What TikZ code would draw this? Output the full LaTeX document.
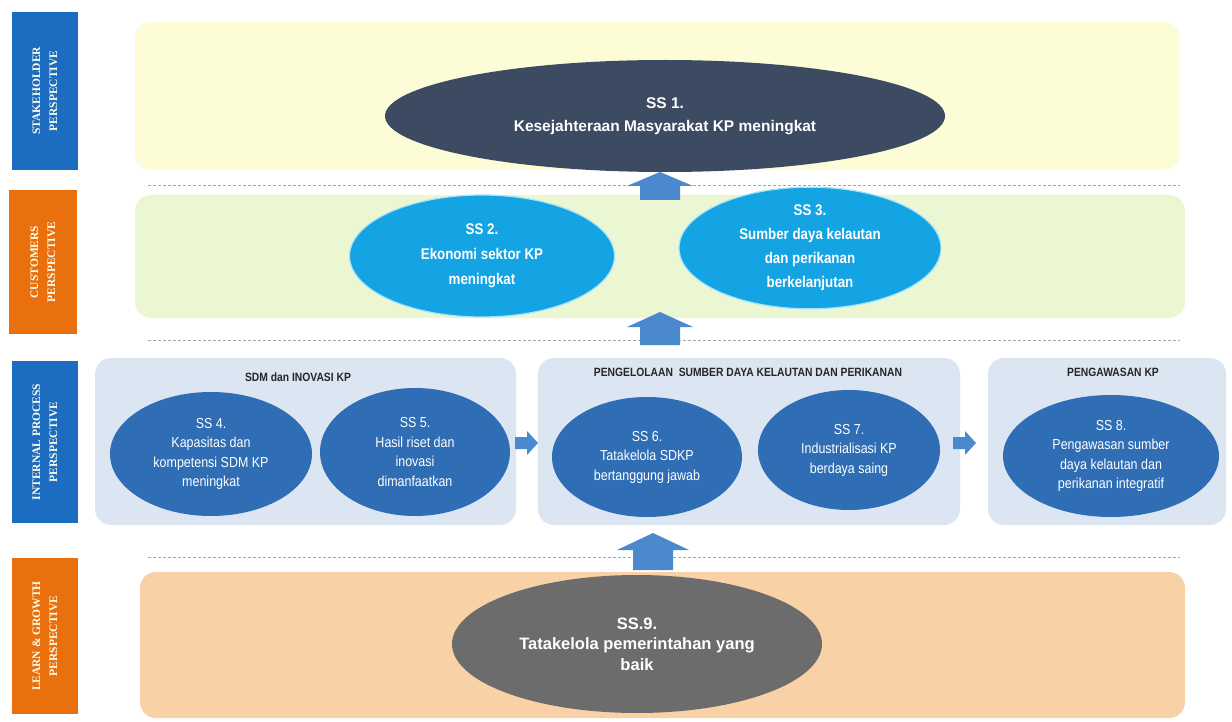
\documentclass[tikz,border=0pt]{standalone}
\usepackage{fontspec}
\setmainfont{Liberation Sans}
\newfontfamily\condfont[FakeStretch=0.86]{Liberation Sans}
\newfontfamily\sidefont{Liberation Serif}
\usetikzlibrary{shapes.geometric,calc}
\definecolor{sideblue}{HTML}{1C6CC2}
\definecolor{sideorange}{HTML}{EA700E}
\definecolor{bandyellow}{HTML}{FCFCD6}
\definecolor{bandgreen}{HTML}{EAF7D2}
\definecolor{panelblue}{HTML}{DCE6F2}
\definecolor{bandpeach}{HTML}{F9D1A6}
\definecolor{navy}{HTML}{3C4A62}
\definecolor{cyanell}{HTML}{14A4E4}
\definecolor{blueell}{HTML}{2F6DB5}
\definecolor{grayell}{HTML}{6C6C6C}
\definecolor{arrowblue}{HTML}{4A89CD}
\tikzset{
  x=1pt,y=-1pt,
  sidebox/.style={fill=#1, draw=none, minimum width=158pt, minimum height=66pt, rotate=90,
     text=white!92!yellow, font=\sidefont\fontsize{11.5}{17}\selectfont\bfseries, align=center, inner sep=0pt},
  band/.style={fill=#1, draw=none, rounded corners=16pt},
  divider/.style={draw=gray!70, dashed, line width=0.8pt, dash pattern=on 3pt off 2pt},
  ell/.style={ellipse, fill=#1, draw=none, text=white, align=center, inner sep=0pt},
  lowell/.style={ell=blueell, font=\condfont\fontsize{14.5}{19.5}\selectfont},
  paneltitle/.style={font=\condfont\fontsize{12}{14}\selectfont\bfseries, text=black!85},
  blockarrow/.style={fill=arrowblue, draw=none},
}
\begin{document}
\begin{tikzpicture}
\useasboundingbox (0,0) rectangle (1232,722);
\fill[white] (0,0) rectangle (1232,722);

% side labels
\node[sidebox=sideblue] (pStake) at (45,91) {STAKEHOLDER\\PERSPECTIVE};
\node[sidebox=sideorange, minimum width=144pt, minimum height=68pt] (pCust) at (43,262) {CUSTOMERS\\PERSPECTIVE};
\node[sidebox=sideblue, minimum width=162pt] (pInt) at (45,442) {INTERNAL PROCESS\\PERSPECTIVE};
\node[sidebox=sideorange, minimum width=156pt] (pLearn) at (45,636) {LEARN \& GROWTH\\PERSPECTIVE};

% bands
\fill[band=bandyellow] (135,22) rectangle (1180,170);
\draw[divider] (148,185) -- (1180,185);
\fill[band=bandgreen] (135,195) rectangle (1185,318);
\draw[divider] (148,340) -- (1180,340);
\fill[band=panelblue] (95,358) rectangle (516,525);
\fill[band=panelblue] (538,358) rectangle (960,525);
\fill[band=panelblue] (988,358) rectangle (1226,525);
\draw[divider] (148,557) -- (1180,557);
\fill[band=bandpeach] (140,572) rectangle (1185,718);

% panel titles
\node[paneltitle] (t1) at (298,377) {SDM dan INOVASI KP};
\node[paneltitle] (t2) at (748,372) {PENGELOLAAN\ \ SUMBER DAYA KELAUTAN DAN PERIKANAN};
\node[paneltitle] (t3) at (1113,372) {PENGAWASAN KP};

% ellipses
\node[ell=navy, minimum width=560pt, minimum height=112pt, font=\fontsize{15.5}{23}\selectfont\bfseries] (ss1) at (665,116)
  {SS 1.\\Kesejahteraan Masyarakat KP meningkat};
\node[ell=cyanell, draw=cyan!35, line width=1.2pt, minimum width=265pt, minimum height=122pt, font=\condfont\fontsize{15.5}{25}\selectfont\bfseries] (ss2) at (482,256)
  {SS 2.\\Ekonomi sektor KP\\meningkat};
\node[ell=cyanell, draw=cyan!35, line width=1.2pt, minimum width=262pt, minimum height=118pt, font=\condfont\fontsize{15.5}{24}\selectfont\bfseries] (ss3) at (810,248)
  {SS 3.\\Sumber daya kelautan\\dan perikanan\\berkelanjutan};
\node[lowell, minimum width=202pt, minimum height=124pt] (ss4) at (211,454)
  {SS 4.\\Kapasitas dan\\kompetensi SDM KP\\meningkat};
\node[lowell, minimum width=190pt, minimum height=128pt] (ss5) at (415,452)
  {SS 5.\\Hasil riset dan\\inovasi\\dimanfaatkan};
\node[lowell, minimum width=190pt, minimum height=120pt] (ss6) at (647,457)
  {SS 6.\\Tatakelola SDKP\\bertanggung jawab};
\node[lowell, minimum width=182pt, minimum height=120pt] (ss7) at (849,450)
  {SS 7.\\Industrialisasi KP\\berdaya saing};
\node[lowell, minimum width=216pt, minimum height=122pt] (ss8) at (1111,456)
  {SS 8.\\Pengawasan sumber\\daya kelautan dan\\perikanan integratif};
\node[ell=grayell, minimum width=370pt, minimum height=138pt, font=\fontsize{16.5}{20.5}\selectfont\bfseries] (ss9) at (637,644)
  {SS.9.\\Tatakelola pemerintahan yang\\baik};

% block arrows (up)
\coordinate (a1) at (660,172);
\fill[blockarrow] (a1) -- ++(33,14) -- ++(-13,0) -- ++(0,14) -- ++(-40,0) -- ++(0,-14) -- ++(-13,0) -- cycle;
\coordinate (a2) at (660,312);
\fill[blockarrow] (a2) -- ++(33,15) -- ++(-13,0) -- ++(0,18) -- ++(-40,0) -- ++(0,-18) -- ++(-13,0) -- cycle;
\coordinate (a3) at (653,533);
\fill[blockarrow] (a3) -- ++(36,17) -- ++(-16,0) -- ++(0,20) -- ++(-40,0) -- ++(0,-20) -- ++(-16,0) -- cycle;
% block arrows (right)
\coordinate (r1) at (538,443);
\fill[blockarrow] (r1) -- ++(-11,-12) -- ++(0,6) -- ++(-12,0) -- ++(0,12) -- ++(12,0) -- ++(0,6) -- cycle;
\coordinate (r2) at (976,443);
\fill[blockarrow] (r2) -- ++(-11,-12) -- ++(0,6) -- ++(-12,0) -- ++(0,12) -- ++(12,0) -- ++(0,6) -- cycle;
\end{tikzpicture}
\end{document}
